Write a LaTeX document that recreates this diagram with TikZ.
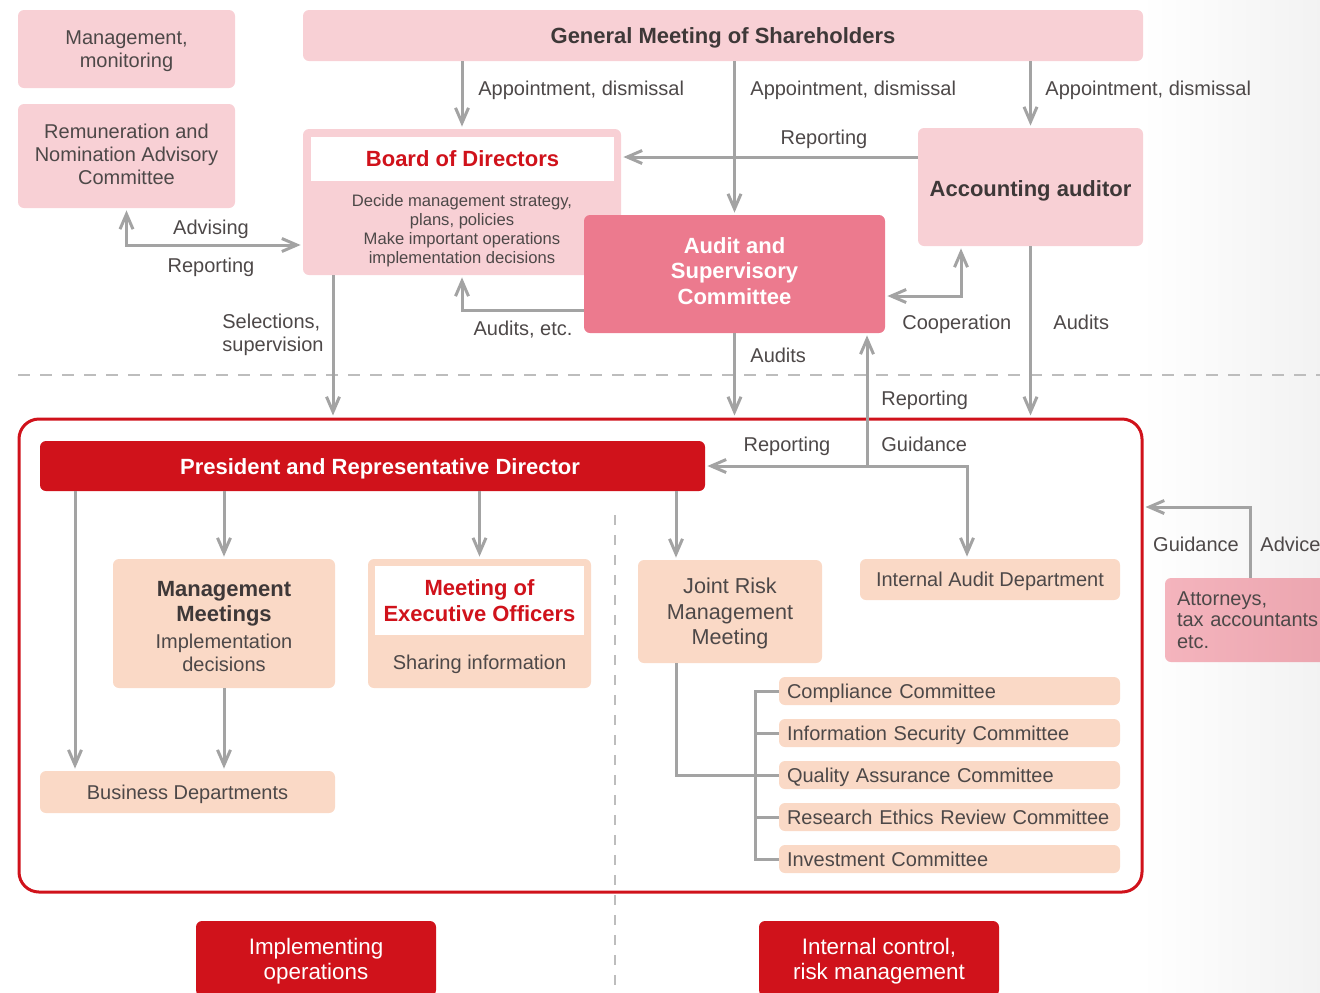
\documentclass[tikz,border=0pt]{standalone}
\usepackage{fontspec}
\setmainfont{Liberation Sans}
\usepackage{tikz}
\usetikzlibrary{positioning, arrows.meta, calc}
\definecolor{pinklight}{HTML}{F8D0D5}
\definecolor{pinkmid}{HTML}{EC7A8E}
\definecolor{corpred}{HTML}{D0121B}
\definecolor{peach}{HTML}{FAD9C6}
\definecolor{wire}{HTML}{A3A3A3}
\definecolor{ink}{HTML}{4D4848}
\definecolor{inkdark}{HTML}{3E3838}
\definecolor{sepgray}{HTML}{BDBDBD}
\definecolor{attyleft}{HTML}{F4B4BD}
\definecolor{attyright}{HTML}{EBA4AE}
\newcommand{\lblfont}{\fontsize{10}{11.5}\selectfont}
\newcommand{\ttlfont}{\fontsize{11}{12.75}\selectfont\bfseries}
\newcommand{\bodyfont}{\fontsize{8.3}{9.5}\selectfont}
\newcommand{\midfont}{\fontsize{10.8}{12.75}\selectfont}
\tikzset{
  pbox/.style     = {rectangle, rounded corners=3pt, fill=pinklight, inner sep=0pt,
                     align=center, font=\lblfont, text=ink, text depth=0pt},
  tbox/.style     = {rectangle, rounded corners=3pt, fill=pinklight, inner sep=0pt,
                     align=center, font=\ttlfont, text=inkdark, text depth=0pt},
  hbox/.style     = {rectangle, rounded corners=3pt, fill=pinkmid, inner sep=0pt,
                     align=center, font=\ttlfont, text=white},
  rbox/.style     = {rectangle, rounded corners=3pt, fill=corpred, inner sep=0pt,
                     align=center, font=\ttlfont, text=white, text depth=0pt},
  obox/.style     = {rectangle, rounded corners=3pt, fill=peach, inner sep=0pt,
                     align=center, font=\lblfont, text=ink, text depth=0pt},
  cbox/.style     = {rectangle, rounded corners=3pt, fill=peach, inner xsep=4pt,
                     inner ysep=0pt, outer sep=0pt, minimum height=14pt, text depth=0pt,
                     text width=162.5pt, align=left, font=\lblfont, text=ink},
  wbox/.style     = {rectangle, fill=white, inner sep=0pt, align=center,
                     font=\ttlfont, text=corpred},
  ctlframe/.style = {rectangle, draw=corpred, line width=1.5pt, rounded corners=10pt},
  lbl/.style      = {font=\lblfont, text=ink, inner sep=0pt, align=left, text depth=0pt},
  ar/.style       = {-{Straight Barb[length=7.5pt,width=6.5pt]}, line width=1.5pt,
                     draw=wire, shorten >=1pt},
  dar/.style      = {{Straight Barb[length=7.5pt,width=6.5pt]}-{Straight Barb[length=7.5pt,width=6.5pt]},
                     line width=1.5pt, draw=wire, shorten >=1pt, shorten <=1pt},
  ln/.style       = {line width=1.5pt, draw=wire},
  sepline/.style  = {draw=sepgray, line width=1.2pt, dash pattern=on 6pt off 5pt},
}

\begin{document}
\begin{tikzpicture}[x=0.5pt, y=-0.5pt]
  \useasboundingbox (0,0) rectangle (1320,992);
  \shade[left color=white, right color=black!5] (1140,0) rectangle (1320,992);

  % separators
  \draw[sepline] (18,375) -- (1320,375);
  \draw[sepline, line width=0.8pt, dash pattern=on 5pt off 5pt] (615,515) -- (615,992);

  % governance level
  \node[pbox, minimum width=108.5pt, minimum height=39pt] (mgmon) at (126.5,49) {Management,\\monitoring};
  \node[pbox, minimum width=108.5pt, minimum height=52pt] (remun) at (126.5,156) {};
  \node[lbl, align=center] (remuntxt) at (126.5,154.5)
       {Remuneration and\\Nomination Advisory\\Committee};
  \node[tbox, minimum width=420pt, minimum height=25.5pt] (gms) at (723,35.5) {General Meeting of Shareholders};
  \node[pbox, minimum width=159pt, minimum height=73pt] (board) at (462,202) {};
  \node[wbox, text depth=0pt, minimum width=151.5pt, minimum height=22pt] (boardttl) at (462.5,159) {Board of Directors};
  \node[pbox, fill=none, font=\bodyfont] (boardtxt) at (462,229)
       {Decide management strategy,\\plans, policies\\Make important operations\\implementation decisions};
  \node[tbox, minimum width=112.5pt, minimum height=59pt] (accaud) at (1030.5,187) {};
  \node[font=\ttlfont, text=inkdark, text depth=0pt, inner sep=0pt] (accaudtxt) at (1030.5,189) {Accounting auditor};
  \node[hbox, minimum width=150.5pt, minimum height=59pt] (asc) at (734.5,274) {};
  \node[font=\ttlfont, text=white, align=center, inner sep=0pt] (asctxt) at (734.5,271) {Audit and\\Supervisory\\Committee};

  % execution level
  \node[ctlframe, minimum width=561.5pt, minimum height=236.5pt] (ctl) at (580.5,655.5) {};
  \node[rbox, minimum width=332.5pt, minimum height=25pt] (pres) at (372.5,466) {};
  \node[font=\ttlfont, text=white, text depth=0pt, inner sep=0pt] (prestxt) at (380,467) {President and Representative Director};
  \node[obox, minimum width=111pt, minimum height=64.5pt] (mm) at (224,623.5) {};
  \node[font=\ttlfont, text=inkdark, align=center, inner sep=0pt, text depth=0pt] (mmttl) at (224,601.5) {Management\\Meetings};
  \node[lbl, align=center] (mmtxt) at (224,653) {Implementation\\decisions};
  \node[obox, minimum width=111.5pt, minimum height=64.5pt] (meo) at (479.5,623.5) {};
  \node[wbox, minimum width=104.5pt, minimum height=34.5pt] (meottl) at (479.5,600.5) {Meeting of\\Executive Officers};
  \node[lbl, align=center] (meotxt) at (479.5,662) {Sharing information};
  \node[obox, minimum width=147.5pt, minimum height=21pt] (bdep) at (187.5,792) {Business Departments};
  \node[obox, font=\midfont, minimum width=92pt, minimum height=51.5pt] (jrm) at (730,611.5) {Joint Risk\\Management\\Meeting};
  \node[obox, minimum width=130pt, minimum height=20.5pt] (iad) at (990,579.5) {Internal Audit Department};
  \node[cbox] (cp) at (949.5,691) {Compliance Committee};
  \node[cbox, below=7pt of cp] (isc) {Information Security Committee};
  \node[cbox, below=7pt of isc] (qac) {Quality Assurance Committee};
  \node[cbox, below=7pt of qac] (rec) {Research Ethics Review Committee};
  \node[cbox, below=7pt of rec] (inv) {Investment Committee};
  \node[rectangle, rounded corners=3pt, left color=attyleft, right color=attyright,
        inner xsep=6pt, inner ysep=0pt, minimum height=42pt, text width=75.5pt, align=left,
        font=\fontsize{10}{10.75}\selectfont, text=ink] (atty) at (1252.5,620) {Attorneys,\\tax accountants\\etc.};

  % legend
  \node[rbox, font=\fontsize{11.2}{12.5}\selectfont, minimum width=120pt, minimum height=37.5pt] (impl) at (316,958.5)
       {Implementing\\operations};
  \node[rbox, font=\fontsize{11.2}{12.5}\selectfont, minimum width=120pt, minimum height=37.5pt] (intctl) at (879,958.5)
       {Internal control,\\risk management};

  % bends
  \coordinate (advy) at (0,245);
  \coordinate (audy) at (0,310);
  \coordinate (coopy) at (0,296);
  \coordinate (coopx) at (961,0);
  \coordinate (repy) at (0,157);
  \coordinate (selx) at (333,0);
  \coordinate (gx) at (967,466);
  \coordinate (jn) at (867,466);
  \coordinate (bx) at (75,0);
  \coordinate (jx) at (676,0);
  \coordinate (brx) at (755,0);
  \coordinate (ax) at (1250,0);
  \coordinate (ay) at (0,507);

  \draw[ar] (gms.south -| board.north) -- (board.north);
  \draw[ar] (gms.south -| asc.north) -- (asc.north);
  \draw[ar] (gms.south -| accaud.north) -- (accaud.north);
  \draw[ar] (accaud.west |- repy) -- (board.east |- repy);
  \draw[dar] (remun.south) |- (board.west |- advy);
  \draw[ar] (asc.west |- audy) -| (board.south);
  \draw[dar] (asc.east |- coopy) -| (coopx |- accaud.south);
  \draw[ar] (accaud.south) -- (accaud.south |- ctl.north);
  \draw[ar] (selx |- board.south) -- (selx |- ctl.north);
  \draw[ar] (asc.south) -- (asc.south |- ctl.north);
  \draw[ar] (jn) -- (jn |- asc.south);
  \draw[dar] (pres.east) -- (gx) -- (gx |- iad.north);

  \draw[ar] (bx |- pres.south) -- (bx |- bdep.north);
  \draw[ar] (pres.south -| mm.north) -- (mm.north);
  \draw[ar] (pres.south -| meo.north) -- (meo.north);
  \draw[ar] (jx |- pres.south) -- (jx |- jrm.north);
  \draw[ar] (mm.south) -- (mm.south |- bdep.north);
  \draw[ln] (jx |- jrm.south) |- (qac.west);
  \draw[ln] (cp.west) -| (brx |- inv.west) -- (inv.west);
  \foreach \c in {isc, rec} \draw[ln] (brx |- \c.west) -- (\c.west);
  \draw[ar] (ax |- atty.north) |- (ctl.east |- ay);

  % labels
  \node[lbl, anchor=west] (lapp1) at (478,88) {Appointment, dismissal};
  \node[lbl, anchor=west] (lapp2) at (750,88) {Appointment, dismissal};
  \node[lbl, anchor=west] (lapp3) at (1045,88) {Appointment, dismissal};
  \node[lbl] (lrep1) at (824,137) {Reporting};
  \node[lbl] (ladv) at (211,227) {Advising};
  \node[lbl] (lrep2) at (211,265) {Reporting};
  \node[lbl] (laud1) at (523,328) {Audits, etc.};
  \node[lbl, anchor=west] (lsel) at (222,333) {Selections,\\supervision};
  \node[lbl, anchor=west] (lcoop) at (902,322) {Cooperation};
  \node[lbl, anchor=west] (laud2) at (1053,322) {Audits};
  \node[lbl, anchor=west] (laud3) at (750,355) {Audits};
  \node[lbl, anchor=west] (lrep3) at (881,398) {Reporting};
  \node[lbl] (lrep4) at (787,444) {Reporting};
  \node[lbl, anchor=west] (lgui1) at (881,444) {Guidance};
  \node[lbl] (lgui2) at (1196,544) {Guidance};
  \node[lbl, anchor=west] (ladvc) at (1260,544) {Advice};
\end{tikzpicture}
\end{document}
